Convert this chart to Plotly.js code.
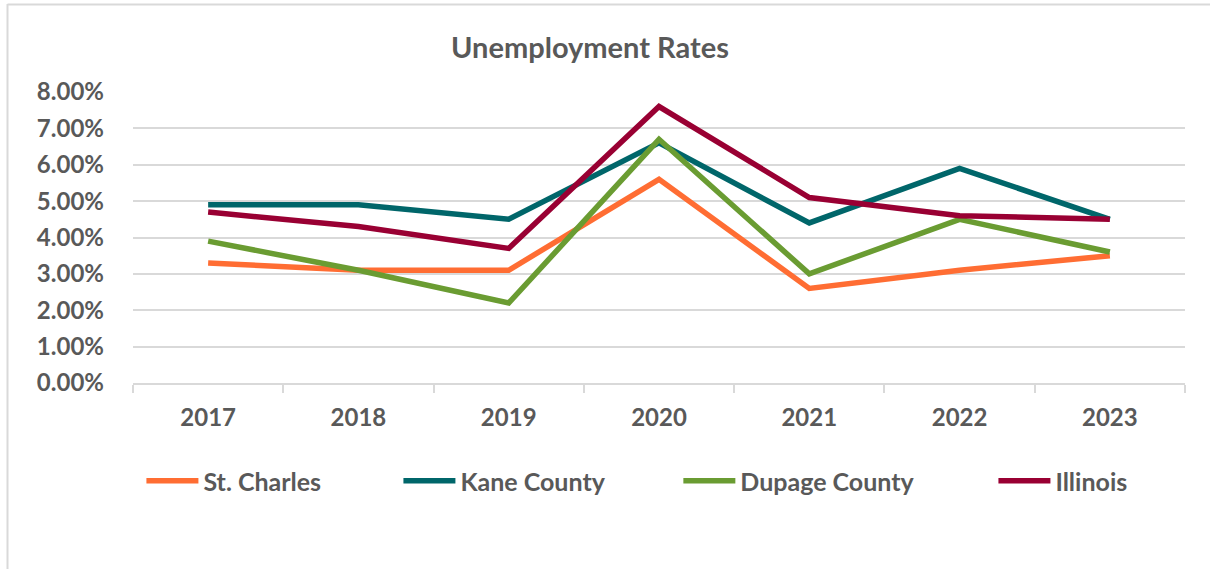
<!DOCTYPE html>
<html>
<head>
<meta charset="utf-8">
<script src="https://cdn.plot.ly/plotly-3.0.1.min.js"></script>
<style>html,body{margin:0;padding:0;background:#fff;}#chart{width:1210px;height:569px;}</style>
</head>
<body>
<div id="chart"></div>
<script>
const years = ["2017","2018","2019","2020","2021","2022","2023"];
const stCharles = [0.033,0.031,0.031,0.056,0.026,0.031,0.035];
const kaneCounty = [0.049,0.049,0.045,0.066,0.044,0.059,0.045];
const dupageCounty = [0.039,0.031,0.022,0.067,0.030,0.045,0.036];
const illinois = [0.047,0.043,0.037,0.076,0.051,0.046,0.045];
const seriesNames = ["St. Charles","Kane County","Dupage County","Illinois"];
const seriesColors = ["#FF6D33","#00666A","#6A9C32","#990033"];
const seriesData = [stCharles,kaneCounty,dupageCounty,illinois];
const legendIds = ["legend","legend2","legend3","legend4"];
const legendX = [0.008, 0.2523, 0.5184, 0.8179];

const FONT = "Lato, 'Open Sans', sans-serif";
const GRAY = "#595959";

const traces = seriesData.map((d,i)=>({
  type:"scatter", mode:"lines", x:years, y:d, name:seriesNames[i],
  legend: legendIds[i],
  line:{color:seriesColors[i], width:5.5, shape:"linear"},
  hoverinfo:"x+y+name"
}));

const layout = {
  width:1210, height:569,
  margin:{l:133, r:25, t:92, b:186},
  paper_bgcolor:"#fff", plot_bgcolor:"#fff",
  font:{family:FONT, color:GRAY},
  title:{text:"Unemployment Rates", font:{family:FONT, size:29, weight:700, color:GRAY},
         xref:"container", yref:"container", x:0.4876, xanchor:"center", y:1-48/569, yanchor:"middle"},
  xaxis:{type:"category", range:[-0.5,6.5], autorange:false, showgrid:false, showline:true, linecolor:"#D9D9D9", linewidth:2,
         ticks:"outside", tickson:"boundaries", ticklen:8, tickcolor:"#D9D9D9", tickwidth:2,
         tickfont:{family:FONT, size:24, weight:700, color:GRAY}, ticklabelstandoff:12, zeroline:false},
  yaxis:{range:[0,0.08], autorange:false, dtick:0.01, tickformat:".2%", showgrid:true, gridcolor:"#D9D9D9", gridwidth:2,
         showline:false, zeroline:false, ticks:"", ticklabelstandoff:28,
         tickfont:{family:FONT, size:24, weight:700, color:GRAY}},
  showlegend:true,
  shapes:[
    {type:"line", xref:"paper", yref:"paper", x0:(7.5-133)/1052, x1:(7.5-133)/1052, y0:(383-4)/291, y1:(383-580)/291, line:{color:"#D9D9D9", width:2}},
    {type:"line", xref:"paper", yref:"paper", x0:(7.5-133)/1052, x1:(1215-133)/1052, y0:(383-4.5)/291, y1:(383-4.5)/291, line:{color:"#D9D9D9", width:2}}
  ]
};
legendIds.forEach((id,i)=>{
  layout[id] = {orientation:"h", x:legendX[i], xanchor:"left", y:(383-481)/291, yanchor:"middle",
    font:{family:FONT, size:25, weight:700, color:GRAY}, itemwidth:52, bgcolor:"rgba(0,0,0,0)"};
});

Plotly.newPlot("chart", traces, layout, {displayModeBar:false, staticPlot:true});
</script>
</body>
</html>
